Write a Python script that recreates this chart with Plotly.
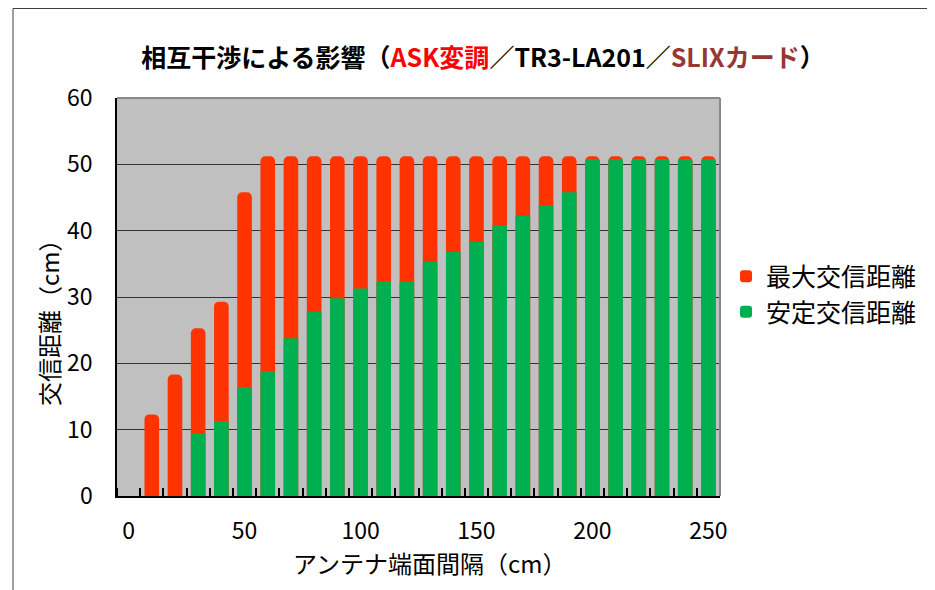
import plotly.graph_objects as go

distance = [10, 20, 30, 40, 50, 60, 70, 80, 90, 100, 110, 120, 130,
            140, 150, 160, 170, 180, 190, 200, 210, 220, 230, 240, 250]
max_range = [12.3, 18.3, 25.3, 29.3, 45.8, 51.2, 51.2, 51.2, 51.2, 51.2, 51.2, 51.2, 51.2,
             51.2, 51.2, 51.2, 51.2, 51.2, 51.2, 51.2, 51.2, 51.2, 51.2, 51.2, 51.2]
stable_range = [None, None, 9.4, 11.3, 16.4, 18.8, 23.8, 27.8, 29.8, 31.3, 32.3, 32.3, 35.3,
                36.8, 38.3, 40.8, 42.3, 43.8, 45.8, 50.8, 50.8, 50.8, 50.8, 50.8, 50.8]
x_ticks = [0, 50, 100, 150, 200, 250]
y_ticks = [0, 10, 20, 30, 40, 50, 60]

FONT = "Noto Sans CJK JP"
RED = "#FF3300"
GREEN = "#00B050"

fig = go.Figure()
fig.add_trace(go.Bar(x=distance, y=max_range, name="最大交信距離",
                     marker=dict(color=RED, cornerradius=5, line=dict(width=0)),
                     width=6.3))
fig.add_trace(go.Bar(x=distance, y=stable_range, name="安定交信距離",
                     marker=dict(color=GREEN, cornerradius=5, line=dict(width=0)),
                     width=6.3))

OFF = 8  # page body margin
W, H = 935, 590
# desired plot area in screen pixels
SX0, SX1, SY0, SY1 = 117, 720, 98, 496
L, T = SX0 - OFF, SY0 - OFF
R, B = W - (SX1 - OFF), H - (SY1 - OFF)
pw, ph = SX1 - SX0, SY1 - SY0

def px(x):
    return (x - SX0) / pw

def py(y):
    return (SY1 - y) / ph

title = ("<b>相互干渉による影響（<span style='color:#FF0000'>ASK変調</span>／TR3-LA201／"
         "<span style='color:#953735'>SLIXカード</span>）</b>")

fig.update_layout(
    width=W, height=H,
    margin=dict(l=L, r=R, t=T, b=B, pad=0, autoexpand=False),
    barmode="overlay",
    paper_bgcolor="white",
    plot_bgcolor="#C0C0C0",
    font=dict(family=FONT, size=23, color="black"),
    title=dict(text=title, x=(483 - OFF) / W, xanchor="center", y=1 - (58 - OFF) / H,
               yanchor="middle", xref="container", yref="container", automargin=False,
               font=dict(family=FONT, size=25, color="black")),
    legend=dict(x=px(726), xanchor="left", y=py(294), yanchor="middle",
                font=dict(family=FONT, size=25), bgcolor="rgba(0,0,0,0)",
                tracegroupgap=0),
    showlegend=True,
    xaxis=dict(range=[-5, 255], tickvals=x_ticks, ticks="", showgrid=False, zeroline=False,
               showline=True, linecolor="black", linewidth=1.5, automargin=False,
               ticklabelstandoff=14,
               minor=dict(ticks="inside", tick0=5, dtick=10, ticklen=8, tickcolor="black",
                          tickwidth=1.5, showgrid=False)),
    yaxis=dict(range=[0, 60], tickvals=y_ticks, ticks="", showgrid=True, gridcolor="#333333",
               gridwidth=1, zeroline=False, showline=True, linecolor="black", linewidth=1.5,
               ticklabelstandoff=18, automargin=False),
    annotations=[
        dict(text="アンテナ端面間隔（cm）", xref="paper", yref="paper", x=px(430), y=py(562),
             xanchor="center", yanchor="middle", showarrow=False,
             font=dict(family=FONT, size=24, color="black")),
        dict(text="交信距離（cm）", xref="paper", yref="paper", x=px(48), y=py(317),
             xanchor="center", yanchor="middle", showarrow=False, textangle=-90,
             font=dict(family=FONT, size=24, color="black")),
    ],
    shapes=[
        dict(type="line", xref="paper", yref="paper", x0=0, x1=1, y0=1, y1=1,
             line=dict(color="#888888", width=2), layer="above"),
        dict(type="line", xref="paper", yref="paper", x0=1, x1=1, y0=0, y1=1,
             line=dict(color="#888888", width=2), layer="above"),
        dict(type="rect", xref="paper", yref="paper", x0=px(13), x1=px(960), y0=py(620),
             y1=py(8.5), line=dict(color="#404040", width=1), layer="below"),
    ],
)

fig.write_html("out.html")
